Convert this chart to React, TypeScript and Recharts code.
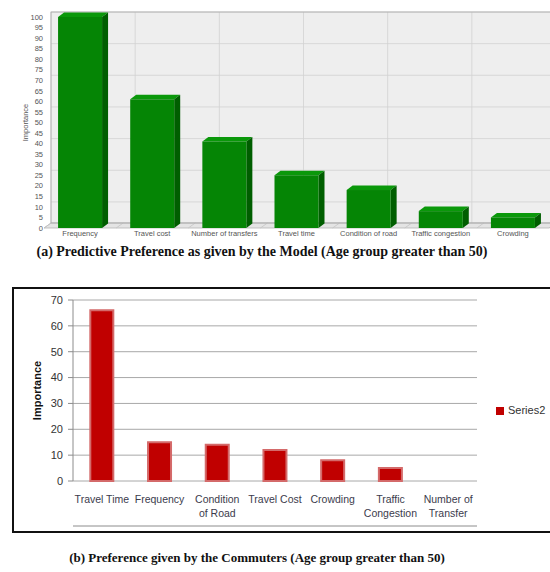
import { Bar, BarChart, CartesianGrid, Legend, ReferenceArea, XAxis, YAxis } from "recharts"

// (a) model output
const modelFactors = ["Frequency", "Travel cost", "Number of transfers", "Travel time", "Condition of road", "Traffic congestion", "Crowding"]
const modelImportance = [100, 61, 41, 25, 18, 8, 5]
const modelTicks = [0, 5, 10, 15, 20, 25, 30, 35, 40, 45, 50, 55, 60, 65, 70, 75, 80, 85, 90, 95, 100]

// (b) survey answers
const commuterFactors = ["Travel Time", "Frequency", "Condition of Road", "Travel Cost", "Crowding", "Traffic Congestion", "Number of Transfer"]
const commuterImportance = [66, 15, 14, 12, 8, 5, 0]
const commuterTicks = [0, 10, 20, 30, 40, 50, 60, 70]

// band edges for the numeric helper axes
const edgeTicks = [0, 1, 2, 3, 4, 5, 6, 7]

const modelData = modelFactors.map((name, i) => ({ name, value: modelImportance[i] }))
const commuterData = commuterFactors.map((name, i) => ({ name, value: commuterImportance[i] }))

// depth of the back wall
const WALL_DX = 7
const WALL_DY = 5

function Bar3D(props: any) {
  const { x, y, width, height } = props
  if (!height) return null
  const dx = 6
  const dy = 4.5
  return (
    <g>
      <polygon points={`${x},${y} ${x + dx},${y - dy} ${x + width + dx},${y - dy} ${x + width},${y}`} fill="#0a980a" />
      <polygon
        points={`${x + width},${y} ${x + width + dx},${y - dy} ${x + width + dx},${y + height - dy} ${x + width},${y + height}`}
        fill="#005e00"
      />
      <rect x={x} y={y} width={width} height={height} fill="#058505" />
    </g>
  )
}

function WallFloor(props: any) {
  const { x, y, width, height } = props
  const b = y + height
  const step = width / modelFactors.length
  return (
    <g>
      <polygon
        points={`${x},${b} ${x + width},${b} ${x + width - WALL_DX},${b + WALL_DY} ${x - WALL_DX},${b + WALL_DY}`}
        fill="#e4e4e4"
        stroke="#b4b4b4"
        strokeWidth={0.8}
      />
      {edgeTicks.map((t) => (
        <line key={t} x1={x + t * step} y1={b} x2={x + t * step - WALL_DX} y2={b + WALL_DY} stroke="#c4c4c4" strokeWidth={0.8} />
      ))}
      <rect x={x} y={y} width={width} height={height} fill="none" stroke="#a8a8a8" strokeWidth={0.8} />
    </g>
  )
}

function wrapLabel(s: string): string[] {
  if (s.length <= 12) return [s]
  const lines: string[] = []
  let cur = ""
  for (const w of s.split(" ")) {
    const next = cur ? cur + " " + w : w
    if (next.length > 9 && cur) {
      lines.push(cur)
      cur = w
    } else cur = next
  }
  lines.push(cur)
  return lines
}

function CommuterTick(props: any) {
  const { x, y, payload } = props
  return (
    <text x={x} y={y} textAnchor="middle" fontSize={10.5} fill="#3b3b4c">
      {wrapLabel(payload.value).map((line, i) => (
        <tspan key={i} x={x} dy={i === 0 ? 22 : 14}>
          {line}
        </tspan>
      ))}
    </text>
  )
}

export default function App() {
  return (
    <div
      style={{
        position: "absolute",
        left: 0,
        top: 0,
        width: 550,
        height: 572,
        background: "#fff",
        overflow: "hidden",
        fontFamily: "'Liberation Sans', Arial, sans-serif",
      }}
    >
      {/* back wall and floor */}
      <div style={{ position: "absolute", left: WALL_DX, top: -WALL_DY }}>
        <BarChart width={550} height={240} data={modelData} margin={{ top: 17, right: 1, left: 44, bottom: 12 }}>
          <XAxis hide type="number" domain={[0, 7]} allowDataOverflow ticks={edgeTicks} />
          <YAxis hide domain={[0, 100]} allowDataOverflow ticks={modelTicks} />
          <CartesianGrid fill="#eeeeee" stroke="#d2d2d2" strokeWidth={0.8} />
          <ReferenceArea shape={WallFloor} />
        </BarChart>
      </div>

      <div style={{ position: "absolute", left: 0, top: 0 }}>
        <BarChart width={550} height={240} data={modelData} margin={{ top: 17, right: 1, left: 0, bottom: 0 }} barCategoryGap="19.5%">
          <XAxis
            dataKey="name"
            height={12}
            interval={0}
            axisLine={false}
            tickLine={false}
            tickSize={0}
            tickMargin={3}
            tick={{ fontSize: 7.5, fill: "#555" }}
          />
          <YAxis
            width={44}
            domain={[0, 100]}
            ticks={modelTicks}
            interval={0}
            axisLine={false}
            tickLine={false}
            tickSize={0}
            tickMargin={1}
            tick={{ fontSize: 7.5, fill: "#555" }}
            label={{ value: "Importance", angle: -90, position: "center", dx: 3, fontSize: 7.5, fill: "#555" }}
          />
          <Bar dataKey="value" shape={Bar3D} isAnimationActive={false} />
        </BarChart>
      </div>

      <div
        style={{
          position: "absolute",
          left: 0,
          top: 244,
          width: 524,
          textAlign: "center",
          fontFamily: "'Liberation Serif', 'Times New Roman', serif",
          fontWeight: "bold",
          fontSize: 14,
          color: "#111",
        }}
      >
        (a) Predictive Preference as given by the Model (Age group greater than 50)
      </div>

      <div
        style={{
          position: "absolute",
          left: 12,
          top: 287,
          width: 545,
          height: 246,
          border: "2px solid #111",
          boxSizing: "border-box",
        }}
      >
        <BarChart width={536} height={242} data={commuterData} margin={{ top: 11, right: 13, left: 0, bottom: 0 }} barCategoryGap="30%">
          <CartesianGrid vertical={false} xAxisId="cat" stroke="#a8a8a8" />
          <XAxis
            xAxisId="edge"
            type="number"
            domain={[0, 7]}
            allowDataOverflow
            ticks={edgeTicks}
            tick={false}
            height={5}
            tickSize={5}
            axisLine={{ stroke: "#8c8c8c" }}
            tickLine={{ stroke: "#8c8c8c" }}
          />
          <XAxis
            xAxisId="cat"
            dataKey="name"
            height={45}
            interval={0}
            axisLine={false}
            tickLine={false}
            tickSize={0}
            tickMargin={0}
            tick={<CommuterTick />}
          />
          <YAxis
            width={59}
            domain={[0, 70]}
            ticks={commuterTicks}
            interval={0}
            axisLine={{ stroke: "#8c8c8c" }}
            tickLine={{ stroke: "#8c8c8c" }}
            tickSize={5}
            tickMargin={5}
            tick={{ fontSize: 11, fill: "#333" }}
            label={{ value: "Importance", angle: -90, position: "center", dx: -6.5, fontSize: 11, fontWeight: "bold", fill: "#111" }}
          />
          <Legend
            layout="vertical"
            align="right"
            verticalAlign="middle"
            width={60}
            iconType="square"
            iconSize={8}
            wrapperStyle={{ left: 482, fontSize: 11 }}
            formatter={(v: string) => <span style={{ color: "#333" }}>{v}</span>}
          />
          <Bar
            dataKey="value"
            name="Series2"
            xAxisId="cat"
            fill="#c00000"
            stroke="#d46a6a"
            strokeWidth={2}
            isAnimationActive={false}
          />
        </BarChart>
      </div>

      <div
        style={{
          position: "absolute",
          left: 0,
          top: 550,
          width: 514,
          textAlign: "center",
          fontFamily: "'Liberation Serif', 'Times New Roman', serif",
          fontWeight: "bold",
          fontSize: 13,
          color: "#111",
        }}
      >
        (b) Preference given by the Commuters (Age group greater than 50)
      </div>
    </div>
  )
}
